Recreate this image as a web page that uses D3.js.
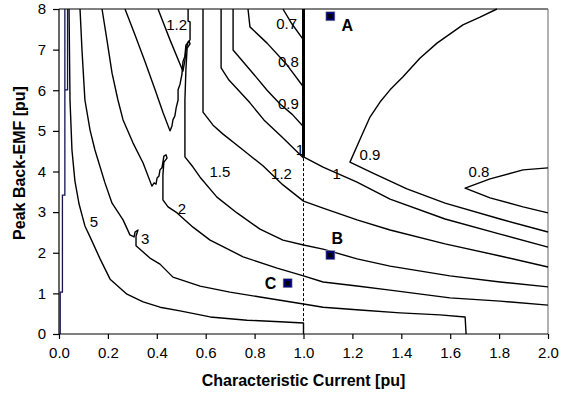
<!DOCTYPE html>
<html>
<head>
<meta charset="utf-8">
<script src="https://cdn.jsdelivr.net/npm/d3@7"></script>
<style>
  body { margin: 0; background: #fff; }
  #chart text { font-family: Arial, "Liberation Sans", sans-serif; fill: #000; }
</style>
</head>
<body>
<div id="chart"></div>
<script>
// axis ticks
const xTicks = [0.0, 0.2, 0.4, 0.6, 0.8, 1.0, 1.2, 1.4, 1.6, 1.8, 2.0];
const yTicks = [0, 1, 2, 3, 4, 5, 6, 7, 8];

// contour lines, [current, back-emf]
const navyStep = [[0.005, 0], [0.005, 1.03], [0.014, 1.03], [0.014, 3.42], [0.024, 3.42], [0.024, 8.0]];
const navyStep2 = [[0.024, 6.01], [0.035, 6.01], [0.035, 8.0]];

const level5 = [[0.041, 8.0], [0.045, 5.76], [0.053, 4.53], [0.065, 3.77], [0.082, 3.20], [0.106, 2.66],
  [0.127, 2.39], [0.168, 1.85], [0.209, 1.35], [0.278, 0.98], [0.344, 0.79], [0.413, 0.66], [0.495, 0.57],
  [0.618, 0.42], [0.769, 0.34], [0.904, 0.30], [1.0, 0.27], [1.0, 0]];

const level3 = [[0.086, 8.0], [0.094, 6.99], [0.106, 5.76], [0.127, 5.02], [0.147, 4.53], [0.188, 3.72],
  [0.217, 3.22], [0.262, 2.81], [0.290, 2.44], [0.307, 2.39], [0.311, 2.51], [0.323, 2.56], [0.315, 2.41],
  [0.315, 2.17], [0.372, 1.87], [0.413, 1.72], [0.466, 1.40], [0.577, 1.18], [0.699, 1.03], [0.822, 0.91],
  [1.0, 0.74], [1.080, 0.66], [1.231, 0.59], [1.395, 0.52], [1.558, 0.47], [1.661, 0.42], [1.665, 0]];

const level2 = [[0.176, 8.0], [0.196, 7.24], [0.217, 6.42], [0.241, 5.76], [0.262, 5.27], [0.303, 4.70],
  [0.344, 4.21], [0.380, 3.64], [0.389, 3.72], [0.397, 3.69], [0.401, 3.84], [0.409, 3.89], [0.413, 4.04],
  [0.421, 4.09], [0.425, 4.23], [0.429, 4.38], [0.438, 4.41], [0.442, 4.33], [0.429, 4.23], [0.425, 3.91],
  [0.425, 3.30], [0.446, 3.13], [0.483, 2.98], [0.548, 2.63], [0.618, 2.31], [0.753, 1.90], [0.892, 1.62],
  [1.0, 1.43], [1.080, 1.28], [1.219, 1.18], [1.354, 1.08], [1.599, 0.89], [1.804, 0.81], [2.0, 0.71]];

const level15 = [[0.270, 8.0], [0.311, 7.36], [0.352, 6.70], [0.393, 6.01], [0.425, 5.46], [0.454, 5.00],
  [0.462, 5.12], [0.466, 5.27], [0.474, 5.37], [0.479, 5.56], [0.487, 5.76], [0.487, 6.01], [0.495, 6.15],
  [0.503, 6.40], [0.507, 6.70], [0.515, 6.84], [0.519, 7.11], [0.532, 7.21], [0.536, 7.14], [0.524, 7.04],
  [0.519, 6.50], [0.515, 5.76], [0.515, 4.36], [0.548, 4.11], [0.577, 3.86], [0.646, 3.37], [0.728, 2.98],
  [0.822, 2.58], [0.916, 2.31], [1.0, 2.19], [1.080, 2.09], [1.219, 1.85], [1.354, 1.67], [1.599, 1.43],
  [1.804, 1.28], [2.0, 1.16]];

const level12Tongue = [[0.405, 8.0], [0.454, 7.24], [0.507, 6.47], [0.515, 6.74], [0.519, 6.99], [0.528, 7.19],
  [0.536, 7.24], [0.536, 7.68], [0.528, 7.70], [0.528, 8.0]];

const level12 = [[0.589, 8.0], [0.589, 5.46], [0.630, 5.14], [0.671, 4.92], [0.753, 4.53], [0.834, 4.14],
  [0.916, 3.67], [1.0, 3.27], [1.080, 3.10], [1.219, 2.81], [1.354, 2.56], [1.579, 2.22], [1.804, 1.92], [2.0, 1.65]];

const level1Left = [[0.663, 8.0], [0.663, 6.55], [0.695, 6.25], [0.732, 6.01], [0.781, 5.69], [0.838, 5.27],
  [0.912, 4.85], [1.0, 4.33]];
const level1Right = [[1.0, 4.36], [1.080, 4.11], [1.219, 3.74], [1.354, 3.32], [1.579, 2.83], [1.804, 2.46], [2.0, 2.14]];

const level09Left = [[0.712, 8.0], [0.712, 6.99], [0.793, 6.42], [0.851, 6.00], [0.904, 5.66], [0.955, 5.40], [1.0, 5.10]];
const level09Right = [[1.791, 8.0], [1.722, 7.80], [1.652, 7.61], [1.546, 7.16], [1.476, 6.79], [1.407, 6.33],
  [1.354, 6.01], [1.313, 5.71], [1.272, 5.34], [1.239, 4.90], [1.190, 4.23], [1.284, 3.96], [1.423, 3.57],
  [1.579, 3.22], [1.804, 2.83], [2.0, 2.51]];

const level08Left = [[0.773, 8.0], [0.781, 7.56], [0.851, 7.16], [0.933, 6.62], [1.0, 6.08]];
const level08Right = [[2.0, 4.09], [1.898, 4.04], [1.763, 3.82], [1.661, 3.59], [1.763, 3.35], [1.898, 3.13], [2.0, 2.98]];

const level07Left = [[0.916, 8.0], [0.953, 7.63], [1.0, 7.24]];

const edgeLine = [[1.0, 8.0], [1.0, 4.36]];
const dashedLine = [[1.0, 4.33], [1.0, 0.27]];

// contour labels
const labelText = ["5", "3", "2", "1.5", "1.2", "1", "0.9", "0.8", "1.2", "0.7", "0.8", "0.9", "1"];
const labelX = [0.143, 0.352, 0.503, 0.658, 0.910, 1.136, 1.272, 1.718, 0.481, 0.931, 0.938, 0.938, 0.985];
const labelY = [2.76, 2.34, 3.08, 3.99, 3.96, 3.96, 4.41, 4.00, 7.61, 7.65, 6.70, 5.68, 4.55];

// operating points
const pointNames = ["A", "B", "C"];
const pointX = [1.11, 1.11, 0.935];
const pointY = [7.82, 1.94, 1.25];

const margin = { top: 9, right: 28, bottom: 65, left: 59 };
const width = 576 - margin.left - margin.right;
const height = 399 - margin.top - margin.bottom;

const svg = d3.select("#chart")
  .append("svg")
  .attr("width", width + margin.left + margin.right)
  .attr("height", height + margin.top + margin.bottom)
  .append("g")
  .attr("transform", `translate(${margin.left},${margin.top})`);

const xScale = d3.scaleLinear().domain([0, 2]).range([0, width]);
const yScale = d3.scaleLinear().domain([0, 8]).range([height, 0]);

const line = d3.line()
  .x(d => xScale(d[0]))
  .y(d => yScale(d[1]));

// frame (top and right)
svg.append("line")
  .attr("x1", 0).attr("x2", width).attr("y1", 0).attr("y2", 0)
  .attr("stroke", "#000").attr("stroke-width", 1);
svg.append("line")
  .attr("x1", width).attr("x2", width).attr("y1", 0).attr("y2", height)
  .attr("stroke", "#666").attr("stroke-width", 1);

const contourLines = [level5, level3, level2, level15, level12Tongue, level12, level1Left, level1Right,
  level09Left, level09Right, level08Left, level08Right, level07Left];

svg.selectAll(".contour")
  .data(contourLines)
  .enter().append("path")
  .attr("class", "contour")
  .attr("d", line)
  .attr("fill", "none")
  .attr("stroke", "#000")
  .attr("stroke-width", 1.4)
  .attr("stroke-linejoin", "round");

svg.selectAll(".navy")
  .data([navyStep, navyStep2])
  .enter().append("path")
  .attr("class", "navy")
  .attr("d", line)
  .attr("fill", "none")
  .attr("stroke", "#141450")
  .attr("stroke-width", 1.3);

svg.append("path")
  .attr("d", line(edgeLine))
  .attr("fill", "none")
  .attr("stroke", "#000")
  .attr("stroke-width", 3);

svg.append("path")
  .attr("d", line(dashedLine))
  .attr("fill", "none")
  .attr("stroke", "#000")
  .attr("stroke-width", 1)
  .attr("stroke-dasharray", "3,2");

// contour labels
svg.selectAll(".clabel")
  .data(labelText)
  .enter().append("text")
  .attr("class", "clabel")
  .attr("x", (d, i) => xScale(labelX[i]))
  .attr("y", (d, i) => yScale(labelY[i]))
  .attr("dy", "0.36em")
  .style("text-anchor", "middle")
  .style("font-size", "15px")
  .text(d => d);

// axes
const xAxis = d3.axisBottom(xScale)
  .tickValues(xTicks)
  .tickFormat(d3.format(".1f"))
  .tickSize(5)
  .tickPadding(8);

const yAxis = d3.axisLeft(yScale)
  .tickValues(yTicks)
  .tickFormat(d3.format("d"))
  .tickSize(6)
  .tickPadding(7);

const gx = svg.append("g")
  .attr("class", "x-axis")
  .attr("transform", `translate(0,${height})`)
  .call(xAxis);

const gy = svg.append("g")
  .attr("class", "y-axis")
  .call(yAxis);

[gx, gy].forEach(g => {
  g.select(".domain").attr("stroke", "#000").attr("stroke-width", 1.2);
  g.selectAll(".tick line").attr("stroke", "#000").attr("stroke-width", 1.2);
  g.selectAll(".tick text").style("font-size", "15px").style("font-family", "Arial, 'Liberation Sans', sans-serif");
});
gx.select(".domain").attr("d", `M0,0H${width}`);
gy.select(".domain").attr("d", `M0,${height}V0`);

// operating points
const labelOffset = { A: [17, 9], B: [7, -17], C: [-17, 0] };
const pts = svg.selectAll(".pt")
  .data(pointNames)
  .enter().append("g")
  .attr("class", "pt")
  .attr("transform", (d, i) => `translate(${xScale(pointX[i])},${yScale(pointY[i])})`);

pts.append("rect")
  .attr("x", -4.5).attr("y", -4.5)
  .attr("width", 9).attr("height", 9)
  .attr("fill", "#00007a")
  .attr("stroke", "#9a9a9a")
  .attr("stroke-width", 0.6);
pts.append("rect")
  .attr("x", -2.2).attr("y", -2.2)
  .attr("width", 4.4).attr("height", 4.4)
  .attr("fill", "#000");
pts.append("text")
  .attr("x", d => labelOffset[d][0])
  .attr("y", d => labelOffset[d][1])
  .attr("dy", "0.36em")
  .style("text-anchor", "middle")
  .style("font-size", "16px")
  .style("font-weight", "bold")
  .text(d => d);

// axis titles
svg.append("text")
  .attr("x", width / 2)
  .attr("y", height + 52)
  .style("text-anchor", "middle")
  .style("font-size", "16px")
  .style("font-weight", "bold")
  .text("Characteristic Current [pu]");

svg.append("text")
  .attr("transform", `translate(${-34},${163 - margin.top}) rotate(-90)`)
  .style("text-anchor", "middle")
  .style("font-size", "16px")
  .style("font-weight", "bold")
  .text("Peak Back-EMF [pu]");
</script>
</body>
</html>
